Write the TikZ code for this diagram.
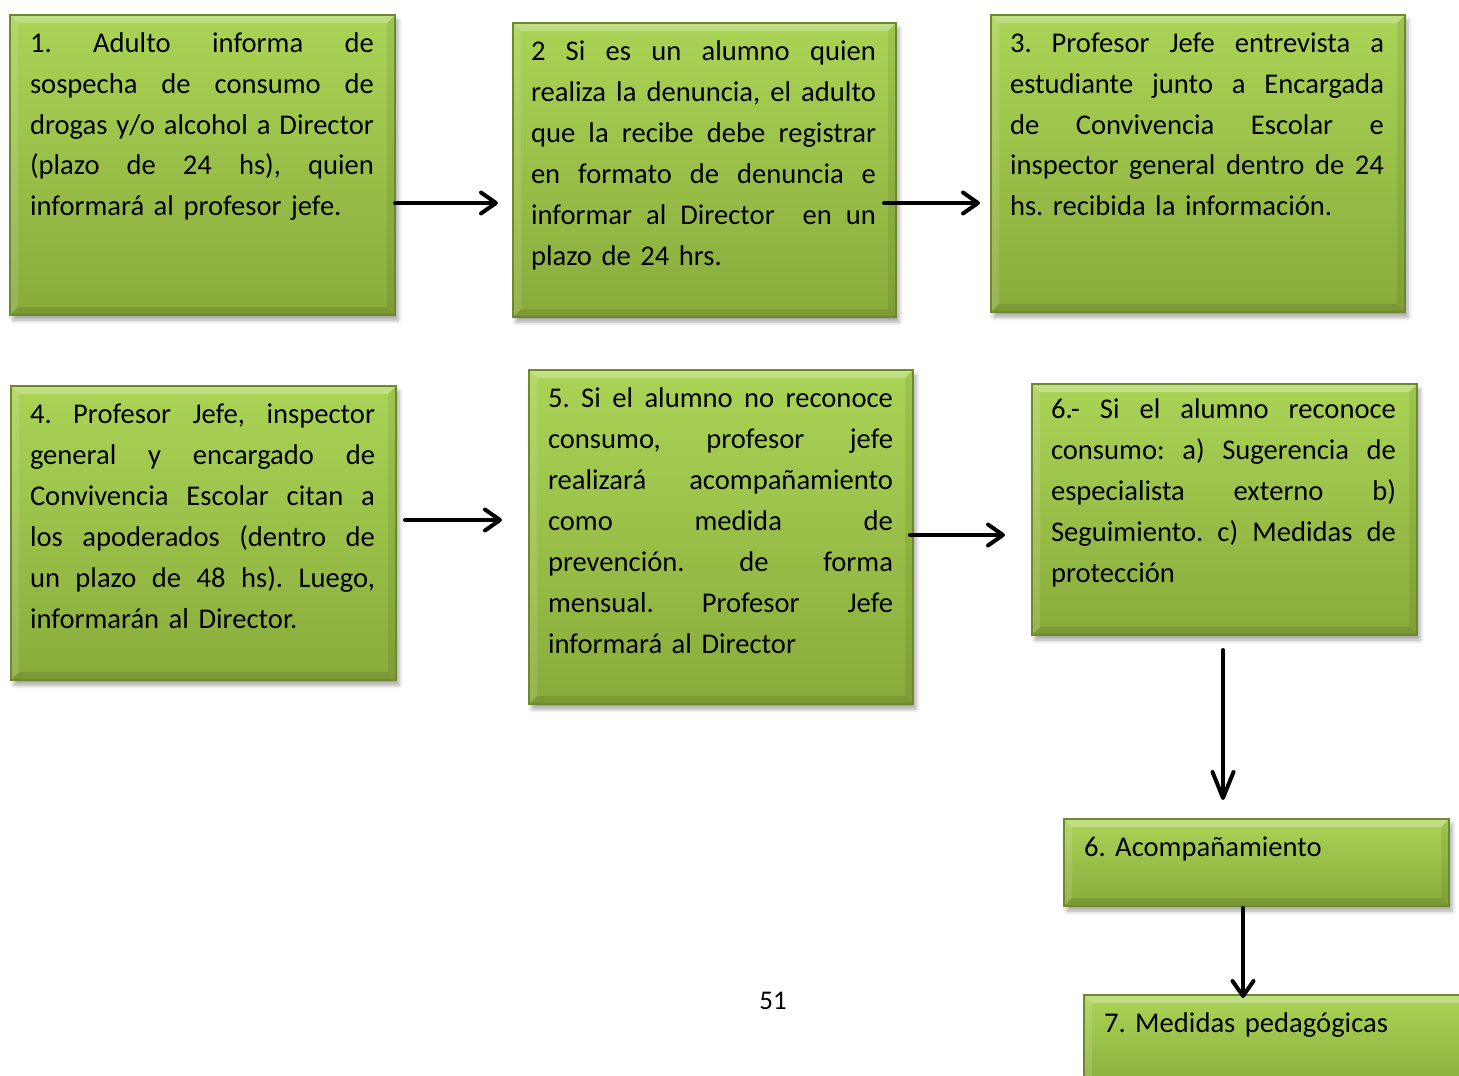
\documentclass[tikz,border=0pt]{standalone}
\usepackage{fontspec}
\setmainfont{Carlito}
\usetikzlibrary{arrows.meta,calc,shadows.blur}
\definecolor{gtop}{RGB}{170,212,86}
\definecolor{gbot}{RGB}{137,171,59}
\definecolor{gbord}{RGB}{108,138,44}
\newcommand\J[2][345pt]{\makebox[#1][l]{#2}}
\newcommand\fs{\rule{0pt}{24pt}}
\newcommand\gp{\hfill}
\frenchspacing
\begin{document}
\begin{tikzpicture}[x=1pt,y=-1pt,
  box/.style={draw=gbord, line width=1.3pt, top color=gtop, bottom color=gbot,
    inner sep=0pt, outer sep=0pt,
    blur shadow={shadow xshift=3pt, shadow yshift=-5pt, shadow blur radius=4pt, shadow opacity=35},
    path picture={
      \fill[white,opacity=.28] (path picture bounding box.north west) -- (path picture bounding box.north east)
        -- ([shift={(-8pt,-8pt)}]path picture bounding box.north east) -- ([shift={(8pt,-8pt)}]path picture bounding box.north west) -- cycle;
      \fill[white,opacity=.12] (path picture bounding box.north west) -- ([shift={(8pt,-8pt)}]path picture bounding box.north west)
        -- ([shift={(8pt,8pt)}]path picture bounding box.south west) -- (path picture bounding box.south west) -- cycle;
      \fill[black,opacity=.07] (path picture bounding box.north east) -- ([shift={(-8pt,-8pt)}]path picture bounding box.north east)
        -- ([shift={(-8pt,8pt)}]path picture bounding box.south east) -- (path picture bounding box.south east) -- cycle;
      \fill[black,opacity=.10] (path picture bounding box.south west) -- ([shift={(8pt,8pt)}]path picture bounding box.south west)
        -- ([shift={(-8pt,8pt)}]path picture bounding box.south east) -- (path picture bounding box.south east) -- cycle;
    }},
  txt/.style={anchor=north west, inner sep=0pt, outer sep=0pt, text width=#1, align=left,
    font=\fontsize{28.6}{41}\selectfont},
  arr/.style={line width=4pt, line cap=round, -{Straight Barb[round,length=15pt,width=21pt]}},
  arrlong/.style={line width=4pt, line cap=round, -{Straight Barb[round,length=26pt,width=21pt]}}
]
\useasboundingbox (0,0) rectangle (1459,1076);
\clip (0,0) rectangle (1459,1076);

% boxes
\node[box, minimum width=385pt, minimum height=300pt] (n1) at (202.5,165) {};
\node[box, minimum width=383pt, minimum height=294pt] (n2) at (704.5,170) {};
\node[box, minimum width=414pt, minimum height=297pt] (n3) at (1198,163.5) {};
\node[box, minimum width=385pt, minimum height=294pt] (n4) at (203.5,533) {};
\node[box, minimum width=384pt, minimum height=334pt] (n5) at (721,537) {};
\node[box, minimum width=385pt, minimum height=251pt] (n6) at (1224.5,509.5) {};
\node[box, minimum width=385pt, minimum height=87pt] (n6b) at (1256.5,862.5) {};
\node[box, minimum width=386pt, minimum height=100pt] (n7) at (1277,1045) {};

% texts
\node[txt=344pt] (t1) at (30,28) {\J[344pt]{\fs 1.\gp Adulto\gp informa\gp de}\\
\J[344pt]{sospecha\gp de\gp consumo\gp de}\\
\J[344pt]{drogas\gp y/o\gp alcohol\gp a\gp Director}\\
\J[344pt]{(plazo\gp de\gp 24\gp hs),\gp quien}\\
informará al profesor jefe.};

\node[txt=345pt] (t2) at (531,36) {\J{\fs 2\gp Si\gp es\gp un\gp alumno\gp quien}\\
\J{realiza\gp la\gp denuncia,\gp el\gp adulto}\\
\J{que\gp la\gp recibe\gp debe\gp registrar}\\
\J{en\gp formato\gp de\gp denuncia\gp e}\\
\J{informar\gp al\gp Director\gp\gp en\gp un}\\
plazo de 24 hrs.};

\node[txt=374pt] (t3) at (1010,28) {\J[374pt]{\fs 3.\gp Profesor\gp Jefe\gp entrevista\gp a}\\
\J[374pt]{estudiante\gp junto\gp a\gp Encargada}\\
\J[374pt]{de\gp Convivencia\gp Escolar\gp e}\\
\J[374pt]{inspector\gp general\gp dentro\gp de\gp 24}\\
hs. recibida la información.};

\node[txt=345pt] (t4) at (30,399) {\J{\fs 4.\gp Profesor\gp Jefe,\gp inspector}\\
\J{general\gp y\gp encargado\gp de}\\
\J{Convivencia\gp Escolar\gp citan\gp a}\\
\J{los\gp apoderados\gp (dentro\gp de}\\
\J{un\gp plazo\gp de\gp 48\gp hs).\gp Luego,}\\
informarán al Director.};

\node[txt=345pt] (t5) at (548,383) {\J{\fs 5.\gp Si\gp el\gp alumno\gp no\gp reconoce}\\
\J{consumo,\gp profesor\gp jefe}\\
\J{realizará\gp acompañamiento}\\
\J{como\gp medida\gp de}\\
\J{prevención.\gp de\gp forma}\\
\J{mensual.\gp Profesor\gp Jefe}\\
informará al Director};

\node[txt=345pt] (t6) at (1051,394) {\J{\fs 6.-\gp Si\gp el\gp alumno\gp reconoce}\\
\J{consumo:\gp a)\gp Sugerencia\gp de}\\
\J{especialista\gp externo\gp b)}\\
\J{Seguimiento.\gp c)\gp Medidas\gp de}\\
protección};

\node[txt=345pt] (t6b) at (1084,832) {\fs 6. Acompañamiento};
\node[txt=345pt] (t7) at (1104,1008) {\fs 7. Medidas pedagógicas};

\node[anchor=base, inner sep=0pt, font=\fontsize{27}{32}\selectfont] (pg) at (773,1009) {51};

% connectors
\draw[arr] ($(n1.east)+(0,38)$) -- ($(n2.west)+(-15,33)$);
\draw[arr] ($(n2.east)+(-12,33)$) -- ($(n3.west)+(-11,39.5)$);
\draw[arr] ($(n4.east)+(9,-13)$) -- ($(n5.west)+(-27,-17)$);
\draw[arr] ($(n5.east)+(-3,-2)$) -- ($(n6.west)+(-27,25.5)$);
\draw[arrlong] ($(n6.south)+(-1.5,15)$) -- ($(n6b.north)+(-33.5,-19)$);
\draw[arr] ($(n6b.south)+(-13.5,2)$) -- ($(n7.north)+(-34,3)$);
\end{tikzpicture}
\end{document}
